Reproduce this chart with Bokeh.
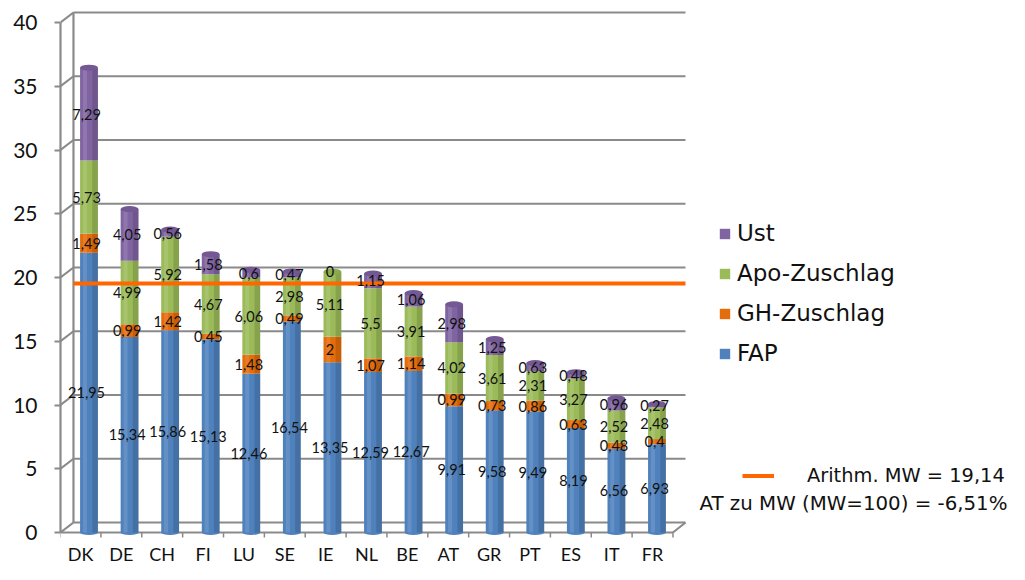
from bokeh.plotting import figure
from bokeh.models import (ColumnDataSource, Range1d, LinearAxis, FixedTicker,
                          Legend, LegendItem, Label)
from bokeh.transform import dodge
from bokeh.core.properties import value
from bokeh.embed import file_html
from bokeh.resources import INLINE

# ---------------- data ----------------
countries = ["DK", "DE", "CH", "FI", "LU", "SE", "IE", "NL", "BE", "AT", "GR", "PT", "ES", "IT", "FR"]
fap = [21.95, 15.34, 15.86, 15.13, 12.46, 16.54, 13.35, 12.59, 12.67, 9.91, 9.58, 9.49, 8.19, 6.56, 6.93]
gh_zuschlag = [1.49, 0.99, 1.42, 0.45, 1.48, 0.49, 2, 1.07, 1.14, 0.99, 0.73, 0.86, 0.63, 0.48, 0.4]
apo_zuschlag = [5.73, 4.99, 5.92, 4.67, 6.06, 2.98, 5.11, 5.5, 3.91, 4.02, 3.61, 2.31, 3.27, 2.52, 2.48]
ust = [7.29, 4.05, 0.56, 1.58, 0.6, 0.47, 0, 1.15, 1.06, 2.98, 1.25, 0.63, 0.48, 0.96, 0.27]
series_keys = ["fap", "gh", "apo", "ust"]
series_names = ["FAP", "GH-Zuschlag", "Apo-Zuschlag", "Ust"]
series_colors = ["#4F81BD", "#E46C0A", "#9BBB59", "#8064A2"]
cap_colors = ["#4573AE", "#CC5F08", "#8BAA4C", "#735893"]
mean_value = 19.14
mean_label = "Arithm. MW = 19,14"
note_label = "AT zu MW (MW=100) = -6,51%"
yticks = [0, 5, 10, 15, 20, 25, 30, 35, 40]

# ---------------- layout constants ----------------
W, H = 1009, 564
LEFT = 60                 # space for the value axis
PX_X = 40.57              # pixels per category (bars, back plane)
PX_Y = 12.75              # pixels per value unit
ZERO_Y = 532              # canvas y of value 0
PAD = 0.2025              # padding left of first category
WALL_DX = 0.32            # depth offset of the back wall (category units)
WALL_DY = 10 / PX_Y       # depth offset of the back wall (value units)
FRONT_SCALE = 40.86 / PX_X
FRONT_OFF = 20 / PX_X - PAD
GRID = "#8a8a8a"
TXT = "#111111"
BAR_W = 0.44


def front(k):
    """position of front-plane category slot k (0 = centre of first category)"""
    return FRONT_OFF + FRONT_SCALE * k


n = len(countries)
series_values = [fap, gh_zuschlag, apo_zuschlag, ust]
data = dict(x=countries, pos=[i + 0.5 for i in range(n)])
for k, v in zip(series_keys, series_values):
    data[k] = v
data["total"] = [sum(t) for t in zip(*series_values)]
# colour of the top cap = colour of the highest non-zero segment
tops = []
for i in range(n):
    idx = max(j for j, vals in enumerate(series_values) if vals[i] > 0)
    tops.append(cap_colors[idx])
data["cap"] = tops
data["zero"] = [0] * n
src = ColumnDataSource(data)

frame_w = W - LEFT
x_range = Range1d(-PAD, -PAD + frame_w / PX_X)
y_range = Range1d(-(H - ZERO_Y) / PX_Y, ZERO_Y / PX_Y)
p = figure(x_range=x_range, y_range=y_range, width=W, height=H,
           output_backend="svg", toolbar_location=None,
           x_axis_location=None, y_axis_location=None,
           min_border_left=LEFT, min_border_right=0, min_border_top=0, min_border_bottom=0)
p.xgrid.visible = False
p.ygrid.visible = False
p.outline_line_color = None
p.background_fill_color = "white"

# 3D wall: back gridlines, connectors, back wall edge
x_left = -PAD
x_back = -PAD + WALL_DX
x_right = n + PAD
p.segment(x0=[x_back] * len(yticks), y0=[t + WALL_DY for t in yticks],
          x1=[x_right] * len(yticks), y1=[t + WALL_DY for t in yticks],
          line_color=GRID, line_width=2.2)
p.segment(x0=[x_left] * len(yticks), y0=yticks,
          x1=[x_back] * len(yticks), y1=[t + WALL_DY for t in yticks],
          line_color=GRID, line_width=2.2)
p.segment(x0=[x_back], y0=[yticks[0] + WALL_DY], x1=[x_back], y1=[yticks[-1] + WALL_DY],
          line_color=GRID, line_width=2.2)
# floor: front edge, right edge, category boundary ticks
p.segment(x0=[x_left, front(n - 0.5)], y0=[0, 0],
          x1=[front(n - 0.5), x_right], y1=[0, WALL_DY],
          line_color=GRID, line_width=2.2)
p.segment(x0=[front(k - 0.5) for k in range(n + 1)], y0=[0] * (n + 1),
          x1=[front(k - 0.5) for k in range(n + 1)], y1=[-5 / PX_Y] * (n + 1),
          line_color=GRID, line_width=1.5)

# rounded cylinder bottoms
p.ellipse(x="pos", y="zero", width=BAR_W, height=5 / PX_Y, source=src,
          fill_color=series_colors[0], line_color=None)

# stacked bars
renderers = p.vbar_stack(series_keys, x="pos", width=BAR_W, source=src,
                         color=series_colors, line_color=None)

# cylinder shading
p.vbar(x=dodge("pos", 0.15), width=0.14, bottom=0, top="total", source=src,
       fill_color="black", fill_alpha=0.13, line_color=None)
p.vbar(x=dodge("pos", -0.1), width=0.1, bottom=0, top="total", source=src,
       fill_color="white", fill_alpha=0.12, line_color=None)

# cylinder top caps
p.ellipse(x="pos", y="total", width=BAR_W, height=6 / PX_Y, source=src,
          fill_color="cap", line_color=None)

# mean line (drawn at mid depth of the 3D box)
mean_r = p.line(x=[x_back, x_right], y=[mean_value + WALL_DY / 2] * 2,
                line_color="#FF6600", line_width=4)

# data labels
lx, ly, lt = [], [], []
for i, c in enumerate(countries):
    base = 0.0
    for vals in series_values:
        v = vals[i]
        lx.append(data["pos"][i])
        ly.append(base + v / 2.0)
        lt.append(f"{v:g}".replace(".", ","))
        base += v
lbl = ColumnDataSource(dict(x=lx, y=ly, text=lt))
p.text(x=dodge("x", -0.06), y="y", text="text", source=lbl,
       text_font=value("Lato"), text_font_size="14.5px", text_align="center",
       text_baseline="middle", text_color=TXT)

# category labels on the front plane
cat_src = ColumnDataSource(dict(x=[front(k) for k in range(n)], y=[-21 / PX_Y] * n, text=countries))
p.text(x="x", y="y", text="text", source=cat_src,
       text_font=value("Lato"), text_font_size="18px", text_align="center",
       text_baseline="middle", text_color=TXT)

# y axis (front)
yax = LinearAxis(ticker=FixedTicker(ticks=yticks), bounds=(yticks[0], yticks[-1]))
yax.axis_line_color = GRID
yax.axis_line_width = 2.2
yax.major_tick_line_color = GRID
yax.major_tick_line_width = 2.2
yax.major_tick_out = 6
yax.major_tick_in = 0
yax.minor_tick_line_color = None
yax.major_label_standoff = 17
yax.major_label_text_font = "Lato"
yax.major_label_text_font_size = "21px"
yax.major_label_text_color = TXT
p.add_layout(yax, "left")

# legend of series (positions measured from bottom-left of the frame)
items = [LegendItem(label=name, renderers=[r]) for name, r in zip(series_names, renderers)][::-1]
leg = Legend(items=items, location=(658, 198), orientation="vertical",
             glyph_width=13, glyph_height=13, label_standoff=6, spacing=14, label_height=26,
             padding=0, margin=0, border_line_color=None, background_fill_alpha=0,
             label_text_font="DejaVu Sans", label_text_font_size="23px", label_text_color=TXT)
p.add_layout(leg, "center")

# legend of mean line
leg2 = Legend(items=[LegendItem(label=mean_label, renderers=[mean_r])], location=(682, 77),
              glyph_width=32, glyph_height=13, label_standoff=33,
              padding=0, margin=0, border_line_color=None, background_fill_alpha=0,
              label_text_font="DejaVu Sans", label_text_font_size="19.4px", label_text_color=TXT)
p.add_layout(leg2, "center")

note = Label(x=947, y=61, x_units="screen", y_units="screen", text=note_label,
             text_align="right", text_baseline="middle",
             text_font="DejaVu Sans", text_font_size="19.8px", text_color=TXT)
p.add_layout(note)

open("out.html", "w").write(file_html(p, INLINE))
